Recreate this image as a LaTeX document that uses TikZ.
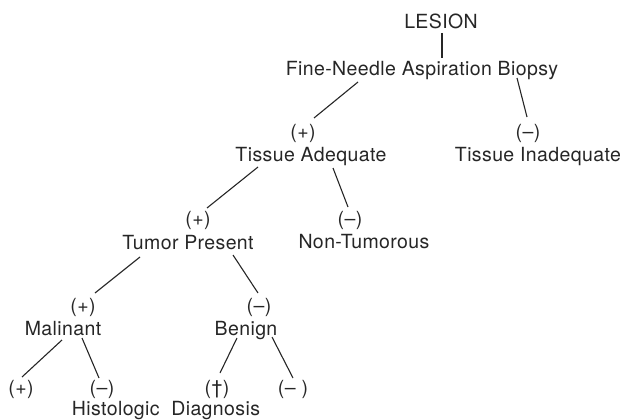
\documentclass[tikz,border=0pt]{standalone}
\usepackage{fontspec}
\setmainfont{TeX Gyre Heros}[LetterSpace=2]
\begin{document}
\begin{tikzpicture}[x=1pt,y=-1pt,
  lbl/.style={anchor=base,inner sep=0pt,text=black!85,font=\fontsize{19.5}{23}\selectfont},
  conn/.style={draw=black!85,line width=1.1pt}]
\useasboundingbox (0,0) rectangle (622,420);
\node[lbl] (les) at (441,29) {LESION};
\node[lbl] (fna) at (422,76) {Fine-Needle Aspiration Biopsy};
\node[lbl] (pTA) at (303,139) {(+)};
\node[lbl] (ta) at (311,161) {Tissue Adequate};
\node[lbl] (mTI) at (528,139) {(–)};
\node[lbl] (ti) at (538,161) {Tissue Inadequate};
\node[lbl] (pTP) at (198,225) {(+)};
\node[lbl] (tp) at (188,249) {Tumor Present};
\node[lbl] (mNT) at (350,225) {(–)};
\node[lbl] (nt) at (364,248) {Non-Tumorous};
\node[lbl] (pMal) at (83,312) {(+)};
\node[lbl] (mal) at (63,335) {Malinant};
\node[lbl] (mBen) at (259,312) {(–)};
\node[lbl] (ben) at (246,335) {Benign};
\node[lbl] (pp) at (21,394) {(+)};
\node[lbl] (pm) at (102,394) {(–)};
\node[lbl] (pd) at (217,394) {(†)};
\node[lbl] (pm2) at (293,394) {(– )};
\node[lbl] (hd) at (166,415) {Histologic\ \ Diagnosis};
\path[conn] ([xshift=1pt,yshift=-4pt]les.base) -- ([xshift=20pt,yshift=18pt]fna.base);
\path[conn] ([xshift=-64pt,yshift=-6pt]fna.base) -- ([xshift=11pt,yshift=21pt]pTA.base);
\path[conn] ([xshift=95pt,yshift=-2pt]fna.base) -- ([xshift=-1pt,yshift=22pt]mTI.base);
\path[conn] ([xshift=-53pt,yshift=-6pt]ta.base) -- ([xshift=9pt,yshift=17pt]pTP.base);
\path[conn] ([xshift=22pt,yshift=-7pt]ta.base) -- ([xshift=-2pt,yshift=18pt]mNT.base);
\path[conn] ([xshift=-48pt,yshift=-8pt]tp.base) -- ([xshift=12pt,yshift=19pt]pMal.base);
\path[conn] ([xshift=45pt,yshift=-6pt]tp.base) -- ([xshift=-1pt,yshift=19pt]mBen.base);
\path[conn] ([xshift=-1pt,yshift=-5pt]mal.base) -- ([xshift=1pt,yshift=17pt]pp.base);
\path[conn] ([xshift=19pt,yshift=-3pt]mal.base) -- ([xshift=-3pt,yshift=16pt]pm.base);
\path[conn] ([xshift=-9pt,yshift=-3pt]ben.base) -- ([xshift=3pt,yshift=21pt]pd.base);
\path[conn] ([xshift=26pt,yshift=-2pt]ben.base) -- ([xshift=0pt,yshift=16pt]pm2.base);
\end{tikzpicture}
\end{document}
